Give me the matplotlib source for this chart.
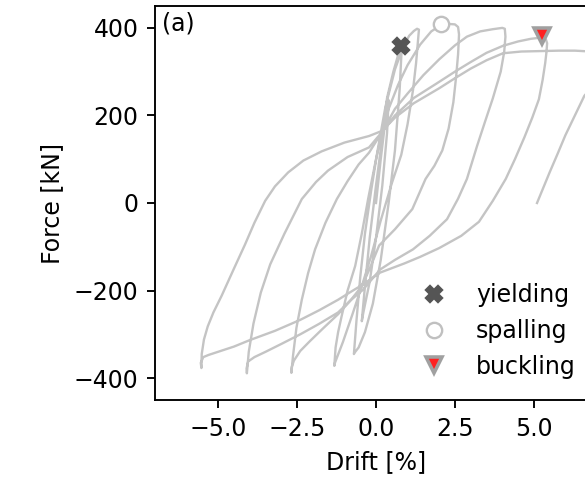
import matplotlib
matplotlib.use("Agg")
import matplotlib.pyplot as plt
import numpy as np

# drift [%] / force [kN], one list per cycle
drift_c1 = [0.0, 0.15, 0.3, 0.4, 0.35, 0.2, 0.0, -0.2, -0.4, -0.45, -0.35, -0.2, 0.0, 0.2]
force_c1 = [0, 100, 190, 235, 160, 40, -80, -180, -250, -270, -190, -80, 40, 150]

drift_c2 = [0.35, 0.55, 0.78, 0.82, 0.75, 0.6, 0.4, 0.15, -0.1, -0.35, -0.55, -0.68, -0.7,
            -0.62, -0.5, -0.35, -0.15, 0.05, 0.3, 0.6, 0.85, 1.05, 1.2, 1.3, 1.36]
force_c2 = [240, 300, 358, 362, 260, 120, 0, -130, -230, -295, -330, -342, -345,
            -270, -170, -70, 30, 120, 220, 305, 355, 382, 393, 398, 396]

drift_c3 = [1.33, 1.27, 1.17, 1.0, 0.8, 0.5, 0.15, -0.15, -0.45, -0.75, -1.05, -1.22,
            -1.3, -1.32, -1.28, -1.2, -1.09, -0.9, -0.66, -0.45, -0.25, 0.0, 0.2]
force_c3 = [370, 320, 257, 180, 110, 45, -40, -120, -190, -255, -318, -350,
            -365, -372, -330, -295, -259, -200, -144, -70, 9, 100, 163]

drift_c4 = [0.4, 0.7, 1.0, 1.4, 1.75, 2.05, 2.3, 2.5, 2.6, 2.63, 2.6, 2.54, 2.45, 2.3,
            2.1, 1.85, 1.57, 1.15, 0.6, 0.1, -0.2, -0.45, -0.8, -1.2, -1.7, -2.1,
            -2.4, -2.6, -2.67, -2.68, -2.63, -2.52, -2.35, -2.15, -1.93, -1.6, -1.24,
            -0.9, -0.55, -0.22, 0.2]
force_c4 = [215, 270, 315, 362, 392, 406, 409, 408, 402, 385, 340, 290, 230, 170,
            120, 85, 55, -14, -60, -97, -150, -190, -222, -254, -288, -316,
            -338, -360, -375, -388, -350, -285, -221, -160, -106, -45, 9,
            50, 88, 115, 163]

drift_c5 = [0.6, 1.0, 1.5, 2.0, 2.5, 2.88, 3.3, 3.7, 4.0, 4.08, 4.1, 4.06, 3.95, 3.7,
            3.45, 3.2, 2.88, 2.6, 2.25, 1.7, 1.17, 0.6, 0.13, -0.41, -0.8, -1.2, -1.8,
            -2.4, -3.0, -3.5, -3.85, -4.05, -4.1, -4.09, -4.03, -3.88, -3.65, -3.35,
            -2.9, -2.35, -1.9, -1.52, -0.9, -0.22, 0.2]
force_c5 = [215, 250, 292, 328, 360, 380, 392, 397, 400, 398, 380, 345, 300, 239,
            185, 130, 55, 10, -37, -75, -106, -130, -152, -198, -222, -250, -276,
            -300, -322, -340, -352, -362, -378, -389, -340, -275, -205, -140,
            -70, 9, 48, 74, 105, 127, 163]

drift_c6 = [0.6, 1.2, 1.92, 2.5, 3.0, 3.5, 4.02, 4.5, 4.9, 5.25, 5.38, 5.42, 5.4, 5.36,
            5.28, 5.16, 4.95, 4.7, 4.4, 4.11, 3.7, 3.26, 2.7, 2.0, 1.4, 0.9, 0.13,
            -0.41, -0.8, -1.2, -1.8, -2.4, -3.2, -3.99, -4.5, -5.0, -5.3, -5.47, -5.55,
            -5.53, -5.52, -5.45, -5.33, -5.15, -4.89, -4.5, -4.15, -3.85, -3.51, -3.2,
            -2.78, -2.3, -1.72, -1.0, -0.22, 0.2]
force_c6 = [200, 240, 273, 300, 322, 343, 359, 369, 375, 378, 374, 365, 345, 320,
            282, 237, 195, 150, 100, 55, 5, -43, -75, -103, -123, -138, -159,
            -186, -203, -221, -245, -267, -292, -313, -328, -340, -347, -352, -365,
            -377, -345, -312, -282, -250, -212, -150, -95, -45, 5, 38,
            70, 97, 118, 138, 153, 165]

drift_c7 = [0.6, 1.2, 2.0, 2.5, 3.0, 3.5, 4.02, 4.6, 5.2, 5.8, 6.3, 6.8, 7.2, 7.4, 7.3,
            7.1, 6.85, 6.6, 6.3, 6.0, 5.75, 5.5, 5.3, 5.1]
force_c7 = [195, 228, 262, 285, 307, 326, 342, 346, 347, 348, 348, 346, 340, 330, 310,
            285, 265, 245, 200, 155, 112, 70, 35, 0]

drift = np.concatenate([drift_c1, drift_c2, drift_c3, drift_c4, drift_c5, drift_c6, drift_c7])
force = np.concatenate([force_c1, force_c2, force_c3, force_c4, force_c5, force_c6, force_c7])

# damage events
yield_pt = (0.78, 358)
spall_pt = (2.05, 408)
buckle_pt = (5.25, 382)

fig = plt.figure(figsize=(585/170, 485/170), dpi=170)
ax = fig.add_axes([155/585, 85/485, 442/585, 394/485])

ax.plot(drift, force, color="#c4c4c4", lw=1.0)
ax.plot(*yield_pt, "X", color="#555555", ms=6.5, ls="none", label="yielding")
ax.plot(*spall_pt, "o", mfc="white", mec="#c0c0c0", mew=1.0, ms=6.5, ls="none", label="spalling")
ax.plot(*buckle_pt, "v", mfc="#ff2020", mec="#a0a0a0", mew=1.5, ms=6.5, ls="none", label="buckling")

ax.set_xlim(-7, 7)
ax.set_ylim(-450, 450)
ax.set_xticks([-5, -2.5, 0, 2.5, 5])
ax.set_yticks([-400, -200, 0, 200, 400])
ax.set_xlabel("Drift [%]")
ax.set_ylabel("Force [kN]")
ax.text(0.015, 0.985, "(a)", transform=ax.transAxes, va="top", ha="left")
ax.legend(loc="lower right", frameon=False)

fig.savefig("out.png", dpi=170)
